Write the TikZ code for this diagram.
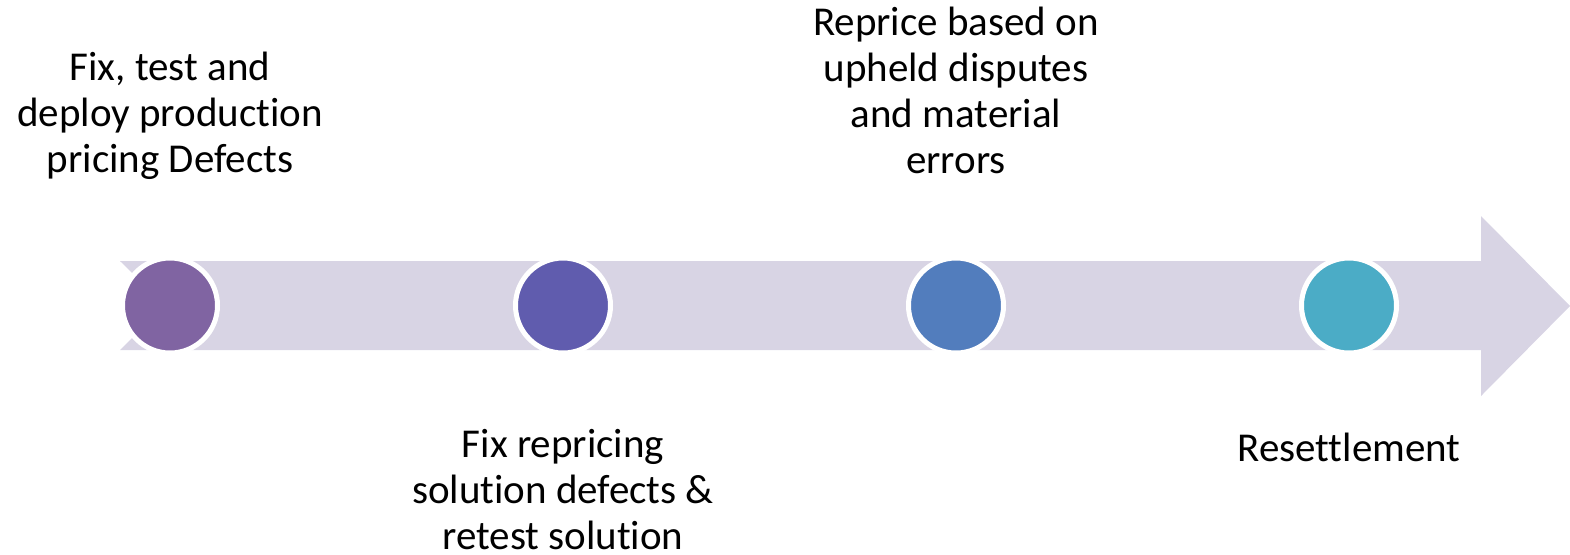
\documentclass[tikz,border=0pt]{standalone}
\usepackage{fontspec}
\setmainfont{Carlito}[Ligatures=NoCommon]
\usepackage{xcolor}
\definecolor{shaft}{HTML}{D8D4E4}
\definecolor{stepA}{HTML}{8064A2}
\definecolor{stepB}{HTML}{605CAE}
\definecolor{stepC}{HTML}{527DBD}
\definecolor{stepD}{HTML}{4BACC6}

\begin{document}
\begin{tikzpicture}[x=0.5pt,y=-0.5pt,
    dot/.style={circle,draw=white,line width=2.5pt,minimum size=95*0.5pt,inner sep=0pt},
    lbl/.style={align=center,anchor=base,inner sep=0pt,font=\fontsize{20.5}{23}\selectfont}]
  % timeline arrow with four steps
  \useasboundingbox (0,0) rectangle (1570,554);
  \fill[shaft] (120,261) -- (1481,261) -- (1481,216) -- (1570,306) -- (1481,396)
    -- (1481,350) -- (120,350) -- (165,305.5) -- cycle;
  \node[dot,fill=stepA] (c1) at (170,305.5) {};
  \node[dot,fill=stepB] (c2) at (563,305.5) {};
  \node[dot,fill=stepC] (c3) at (956,305.5) {};
  \node[dot,fill=stepD] (c4) at (1349,305.5) {};
  \node[lbl] (t1) at (170,172) {Fix, test and\\deploy production\\pricing Defects};
  \node[lbl] (t2) at (563,549) {Fix repricing\\solution defects \&\\retest solution};
  \node[lbl] (t3) at (956,173) {Reprice based on\\upheld disputes\\and material\\errors};
  \node[lbl] (t4) at (1349,461) {Resettlement};
\end{tikzpicture}
\end{document}
